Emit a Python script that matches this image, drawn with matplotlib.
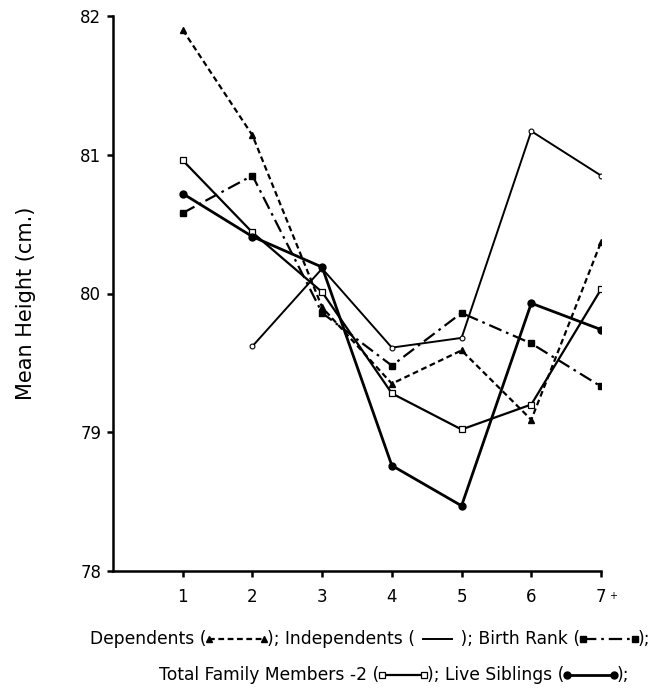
import matplotlib
matplotlib.use("Agg")
import matplotlib.pyplot as plt
from matplotlib.lines import Line2D
from matplotlib.offsetbox import TextArea, DrawingArea, HPacker, AnchoredOffsetbox

plt.rcParams['font.family'] = ['DejaVu Sans']

# family size category (7 = "7+")
family_size = [1, 2, 3, 4, 5, 6, 7]
x_tick_labels = ["1", "2", "3", "4", "5", "6", "7"]

# mean height (cm.)
dependents = [81.90, 81.14, 79.90, 79.35, 79.59, 79.09, 80.37]
independents_x = [2, 3, 4, 5, 6, 7]
independents = [79.62, 80.18, 79.61, 79.68, 81.17, 80.85]
birth_rank = [80.58, 80.85, 79.86, 79.48, 79.86, 79.64, 79.33]
total_family = [80.96, 80.44, 80.01, 79.28, 79.02, 79.20, 80.03]
live_siblings = [80.72, 80.41, 80.19, 78.76, 78.47, 79.93, 79.74]

y_ticks = [78, 79, 80, 81, 82]

fig = plt.figure(figsize=(6.65, 6.96), dpi=100)
ax = fig.add_axes([113 / 665, 1 - 571 / 696, 488 / 665, 555 / 696])

dash_dot = (0, (6, 2.2, 1.2, 2.2))

# one dict per series so the legend samples below share the styles
st_dep = dict(color="black", lw=1.6, ls=(0, (2.6, 1.6)), marker="^", ms=4.5, mfc="black")
st_ind = dict(color="black", lw=1.4, ls="-", marker="o", ms=3.5, mfc="white", mew=0.8)
st_br = dict(color="black", lw=1.6, ls=dash_dot, marker="s", ms=4.5, mfc="black")
st_tfm = dict(color="black", lw=1.6, ls="-", marker="s", ms=4.5, mfc="white", mew=0.9)
st_ls = dict(color="black", lw=2.0, ls="-", marker="o", ms=5, mfc="black")

ax.plot(family_size, dependents, **st_dep)
ax.plot(independents_x, independents, **st_ind)
ax.plot(family_size, birth_rank, **st_br)
ax.plot(family_size, total_family, **st_tfm)
ax.plot(family_size, live_siblings, **st_ls)

ax.set_xlim(0, 7)
ax.set_ylim(78, 82)
ax.set_xticks(family_size)
ax.set_xticklabels(x_tick_labels)
ax.set_yticks(y_ticks)
ax.set_yticklabels([str(v) for v in y_ticks])

for s in ["top", "right"]:
    ax.spines[s].set_visible(False)
for s in ["left", "bottom"]:
    ax.spines[s].set_linewidth(1.8)
ax.tick_params(axis="both", width=1.8, length=4.5, labelsize=12, pad=4)
ax.tick_params(axis="x", pad=8)

ax.annotate("+", xy=(7, 78), xytext=(9, -18), textcoords="offset points",
            fontsize=7, ha="center", va="center", annotation_clip=False)

ax.set_ylabel("Mean Height (cm.)", fontsize=15)
ax.yaxis.set_label_coords(-0.158, 0.483)


# legend written out as text with little line samples, like the caption
def sample(style, width_px):
    w = width_px * 0.72
    h = 8
    da = DrawingArea(w, h, 0, 0)
    da.add_artist(Line2D([2, w - 2], [h / 2, h / 2], **style))
    return da


fs = 12.3
def txt(s):
    return TextArea(s, textprops=dict(fontsize=fs))


row1 = HPacker(children=[
    txt("Dependents ("), sample(st_dep, 60), txt("); Independents ( "),
    sample(dict(color="black", lw=1.4), 35), txt(" ); Birth Rank ("),
    sample(st_br, 57), txt(");"),
], align="center", pad=0, sep=0)

row2 = HPacker(children=[
    txt("Total Family Members -2 ("), sample(st_tfm, 48), txt("); Live Siblings ("),
    sample(st_ls, 52), txt(");"),
], align="center", pad=0, sep=0)

for row, cx, cy in [(row1, 370, 639), (row2, 394, 675)]:
    box = AnchoredOffsetbox(loc="center", child=row, frameon=False, pad=0, borderpad=0,
                            bbox_to_anchor=(cx / 665, 1 - cy / 696),
                            bbox_transform=fig.transFigure)
    fig.add_artist(box)

fig.savefig("out.png", dpi=100)
